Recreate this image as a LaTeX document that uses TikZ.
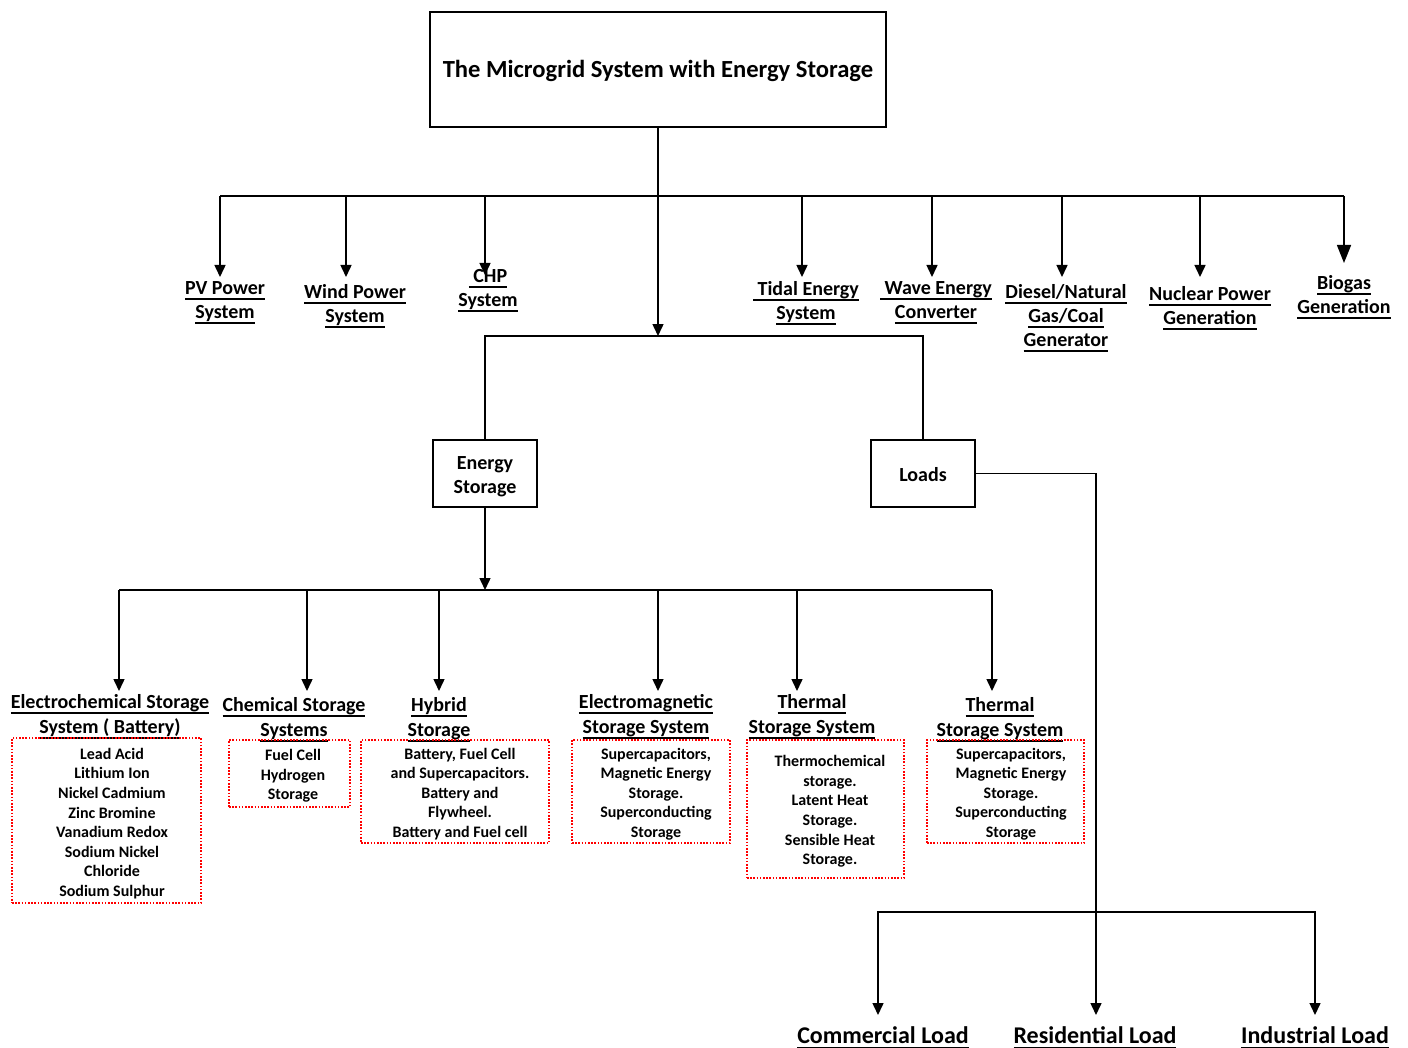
\documentclass[tikz,border=0pt]{standalone}
\usepackage{fontspec}
\setmainfont{Carlito}
\usetikzlibrary{arrows.meta,positioning}

% underline at a fixed depth, as in the source
\newcommand{\ulin}[1]{\setbox0=\hbox{#1}\rlap{\rule[-2.7pt]{\wd0}{1pt}}\box0}

\begin{document}
\begin{tikzpicture}[
        x=0.5pt,y=-0.5pt,
        line width=0.75pt,
        arr/.style={-{Triangle[length=6pt,width=5.5pt]}},
        blk/.style={draw,inner sep=0pt,align=center,font=\fontsize{10}{12}\selectfont\bfseries},
        src/.style={align=center,inner sep=0pt,yshift=-1.5pt,font=\fontsize{10}{12}\selectfont\bfseries},
        cat/.style={align=center,inner sep=0pt,yshift=-1.5pt,font=\fontsize{10}{12.4}\selectfont\bfseries},
        redbox/.style={draw=red,line width=0.8pt,dash pattern=on 0.8pt off 0.8pt,inner sep=0pt},
        itemtxt/.style={align=center,inner sep=0pt,yshift=-1pt,font=\fontsize{8}{9.8}\selectfont\bfseries},
        loadlbl/.style={inner sep=0pt,yshift=-1.5pt,font=\fontsize{12}{14}\selectfont\bfseries}
    ]
    \useasboundingbox (0,0) rectangle (1408,1048);

    % main boxes
    \node (title) [blk,minimum width=228pt,minimum height=57.5pt,text height=10.4pt,text depth=2.6pt,
        font=\fontsize{12.3}{14}\selectfont\bfseries]
        at (658,69.5) {The Microgrid System with Energy Storage};
    \node (es) [blk,minimum width=52pt,minimum height=33.5pt] at (485,473.5) {\rule{0pt}{9.6pt}Energy\\Storage};
    \node (ld) [blk,minimum width=52pt,minimum height=33.5pt] at (923,473.5) {\rule{0pt}{7.8pt}Loads};

    % bus lines
    \coordinate (topbus) at (658,196);
    \coordinate (midbus) at (658,336);
    \coordinate (esbus)  at (485,590);
    \coordinate (ldbus)  at (1096,912);

    % generation sources
    \node (pv)      [src] at (225,300)   {\ulin{PV Power}\\\ulin{System}};
    \node (wind)    [src] at (355,303)   {\ulin{Wind Power}\\\ulin{System}};
    \node (chp)     [src] at (488,288)   {\ulin{\ CHP}\\\ulin{System}};
    \node (tidal)   [src] at (806,300)   {\ulin{\ Tidal Energy}\\\ulin{System}};
    \node (wave)    [src] at (936,300)   {\ulin{\ Wave Energy}\\\ulin{Converter}};
    \node (diesel)  [src] at (1066,315)  {\ulin{Diesel/Natural}\\\ulin{Gas/Coal}\\\ulin{Generator}};
    \node (nuclear) [src] at (1210,305)  {\ulin{Nuclear Power}\\\ulin{Generation}};
    \node (biogas)  [src] at (1344,294.5){\ulin{Biogas}\\\ulin{Generation}};

    \foreach \n/\x/\y in {pv/220/277,wind/346/277,chp/485/275,tidal/802/277,
                          wave/932/277,diesel/1062/277,nuclear/1200/277}{
        \coordinate (\n-in) at (\x,\y);
        \draw [arr] (topbus -| \n-in) -- (\n-in);
    }
    \coordinate (biogas-in) at (1344,263);
    \draw [-{Triangle[length=9pt,width=7pt]}] (topbus -| biogas-in) -- (biogas-in);
    \draw (pv-in |- topbus) -- (biogas-in |- topbus);

    \draw [arr] (title.south) -- (midbus);
    \draw (es.north) |- (midbus) -| (ld.north);

    % storage categories
    \node (ec)  [cat] at (110,713.5) {\ulin{Electrochemical Storage}\\\ulin{System ( Battery)}};
    \node (ch)  [cat] at (294,717)   {\ulin{Chemical Storage}\\\ulin{Systems}};
    \node (hy)  [cat] at (439,717)   {\ulin{Hybrid}\\\ulin{Storage}};
    \node (em)  [cat] at (646,713.5) {\ulin{Electromagnetic}\\\ulin{Storage System}};
    \node (th1) [cat] at (812,714)   {\ulin{Thermal}\\\ulin{Storage System}};
    \node (th2) [cat] at (1000,717)  {\ulin{Thermal}\\\ulin{Storage System}};

    \foreach \n/\x in {ec/119,ch/307,hy/439,em/658,th1/797,th2/992}{
        \coordinate (\n-in) at (\x,691);
        \draw [arr] (esbus -| \n-in) -- (\n-in);
    }
    \draw (ec-in |- esbus) -- (th2-in |- esbus);
    \draw [arr] (es.south) -- (esbus);

    % dotted boxes with the storage types
    \node (ec-box)  [redbox,minimum width=94.5pt,minimum height=82.5pt] at (106.5,820.5) {};
    \node (ch-box)  [redbox,minimum width=60.5pt,minimum height=33.5pt] at (289.5,773.5) {};
    \node (hy-box)  [redbox,minimum width=94pt,minimum height=51.5pt]   at (455,791.5)   {};
    \node (em-box)  [redbox,minimum width=79pt,minimum height=51.5pt]   at (651,791.5)   {};
    \node (th1-box) [redbox,minimum width=78.5pt,minimum height=69pt]   at (825.5,809)   {};
    \node (th2-box) [redbox,minimum width=78.5pt,minimum height=51.5pt] at (1005.5,791.5){};

    \node (ec-txt)  [itemtxt] at (112,821.5) {Lead Acid\\Lithium Ion\\Nickel Cadmium\\Zinc Bromine\\
        Vanadium Redox\\Sodium Nickel\\Chloride\\Sodium Sulphur};
    \node (ch-txt)  [itemtxt] at (293,774)   {Fuel Cell\\Hydrogen\\Storage};
    \node (hy-txt)  [itemtxt] at (460,792)   {Battery, Fuel Cell\\and Supercapacitors.\\Battery and\\
        Flywheel.\\Battery and Fuel cell};
    \node (em-txt)  [itemtxt] at (656,792)   {Supercapacitors,\\Magnetic Energy\\Storage.\\
        Superconducting\\Storage};
    \node (th1-txt) [itemtxt] at (830,809.5) {Thermochemical\\storage.\\Latent Heat\\Storage.\\
        Sensible Heat\\Storage.};
    \node (th2-txt) [itemtxt] at (1011,792)  {Supercapacitors,\\Magnetic Energy\\Storage.\\
        Superconducting\\Storage};

    % loads
    \node (com) [loadlbl] at (883,1035)  {\ulin{Commercial Load}};
    \node (res) [loadlbl] at (1095,1035) {\ulin{Residential Load}};
    \node (ind) [loadlbl] at (1315,1035) {\ulin{Industrial Load}};

    \coordinate (com-in) at (878,1015);
    \coordinate (res-in) at (1096,1015);
    \coordinate (ind-in) at (1315,1015);
    \draw [arr] (ld.east) -| (res-in);
    \draw [{Triangle[length=6pt,width=5.5pt]}-{Triangle[length=6pt,width=5.5pt]}]
        (com-in) |- (ldbus) -| (ind-in);
\end{tikzpicture}
\end{document}
